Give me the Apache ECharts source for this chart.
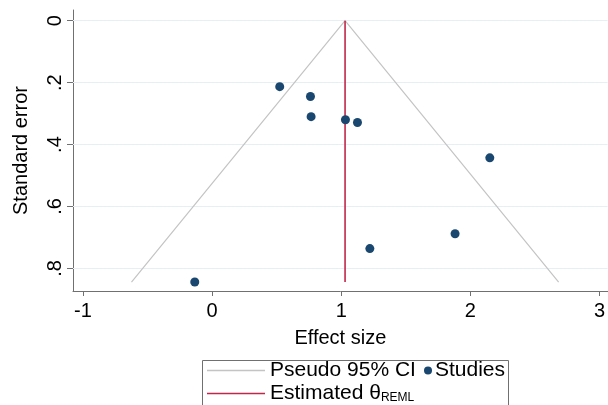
<!DOCTYPE html>
<html>
<head>
<meta charset="utf-8">
<script src="https://cdn.jsdelivr.net/npm/echarts@6/dist/echarts.min.js"></script>
<style>html,body{margin:0;padding:0;background:#fff}#c{width:608px;height:405px}</style>
</head>
<body>
<div id="c"></div>
<script>
// Data
var studyEffect = [0.524, 0.762, 0.767, 1.033, 1.126, 2.151, 1.882, 1.222, -0.134];
var studySE     = [0.213, 0.245, 0.310, 0.320, 0.329, 0.443, 0.688, 0.736, 0.844];
var thetaREML = 1.03;
var funnelEffect = [-0.624, 1.03, 2.684];
var funnelSE     = [0.844, 0, 0.844];
var xTicks = [-1, 0, 1, 2, 3];
var yTicks = [0, 0.2, 0.4, 0.6, 0.8];

var FONT = '"Liberation Sans", Arial, Helvetica, sans-serif';
var studies = studyEffect.map(function (e, i) { return [e, studySE[i]]; });
var funnel = funnelEffect.map(function (e, i) { return [e, funnelSE[i]]; });
var refLine = [[thetaREML, 0], [thetaREML, studySE[studySE.length - 1]]];

var chart = echarts.init(document.getElementById('c'), null, {renderer: 'canvas'});
chart.setOption({
  animation: false,
  grid: {left: 73, right: 0, top: 10, bottom: 114, containLabel: false},
  xAxis: {
    type: 'value', min: -1.077, max: 3.064,
    axisLine: {onZero: false, lineStyle: {color: '#707070', width: 1}},
    axisTick: {show: true, length: 5, customValues: xTicks, lineStyle: {color: '#707070'}},
    axisLabel: {customValues: xTicks, color: '#000', fontFamily: FONT, fontSize: 20, margin: 10},
    splitLine: {show: false},
    name: 'Effect size', nameLocation: 'middle', nameGap: 37,
    nameTextStyle: {color: '#000', fontFamily: FONT, fontSize: 20}
  },
  yAxis: {
    type: 'value', inverse: true, min: -0.0345, max: 0.873,
    axisLine: {show: true, onZero: false, lineStyle: {color: '#707070', width: 1}},
    axisTick: {show: true, length: 6, customValues: yTicks, lineStyle: {color: '#707070'}},
    axisLabel: {customValues: yTicks, rotate: 90, color: '#000', fontFamily: FONT, fontSize: 20, margin: 8,
      formatter: function (v) { return v === 0 ? '0' : String(Math.round(v * 10) / 10).replace(/^0/, ''); }},
    splitLine: {show: false},
    name: 'Standard error', nameLocation: 'middle', nameGap: 42,
    nameTextStyle: {color: '#000', fontFamily: FONT, fontSize: 20}
  },
  legend: [
    {data: [{name: 'Pseudo 95% CI', icon: 'rect'}], left: 207, top: 360, itemWidth: 58, itemHeight: 1.5, padding: 0,
     textStyle: {fontFamily: FONT, fontSize: 21, color: '#000'}},
    {data: [{name: 'Studies', icon: 'circle'}], left: 424, top: 360, itemWidth: 8, itemHeight: 8, padding: 0,
     textStyle: {fontFamily: FONT, fontSize: 21, color: '#000', padding: [0, 0, 0, -2]}},
    {data: [{name: 'Estimated θ', icon: 'rect'}], left: 207, top: 383, itemWidth: 58, itemHeight: 1.6, padding: 0,
     formatter: function () { return '{m|Estimated θ}{s|REML}'; },
     textStyle: {fontFamily: FONT, fontSize: 21, color: '#000',
       rich: {m: {fontFamily: FONT, fontSize: 21, color: '#000'},
              s: {fontFamily: FONT, fontSize: 12, color: '#000', verticalAlign: 'bottom', padding: [9, 0, 0, 0]}}}}
  ],
  graphic: [{type: 'rect', left: 200, top: 358, shape: {width: 306, height: 60},
    style: {fill: 'none', stroke: '#707070', lineWidth: 1}, z: 100, silent: true}],
  series: [
    {name: 'Pseudo 95% CI', type: 'line', data: funnel, symbol: 'none',
     lineStyle: {color: '#c4c4c4', width: 1.2}, itemStyle: {color: '#c4c4c4'}, z: 2,
     markLine: {silent: true, symbol: 'none', label: {show: false}, z: 1,
       lineStyle: {color: '#e6eff1', width: 1, type: 'solid'},
       data: yTicks.map(function (v) { return {yAxis: v}; })}},
    {name: 'Estimated θ', type: 'line', data: refLine, symbol: 'none',
     lineStyle: {color: '#c3264b', width: 1.6}, itemStyle: {color: '#c3264b'}, z: 3},
    {name: 'Studies', type: 'scatter', data: studies, symbol: 'circle', symbolSize: 9,
     itemStyle: {color: '#1a476f', opacity: 1}, z: 4}
  ]
});
</script>
</body>
</html>
